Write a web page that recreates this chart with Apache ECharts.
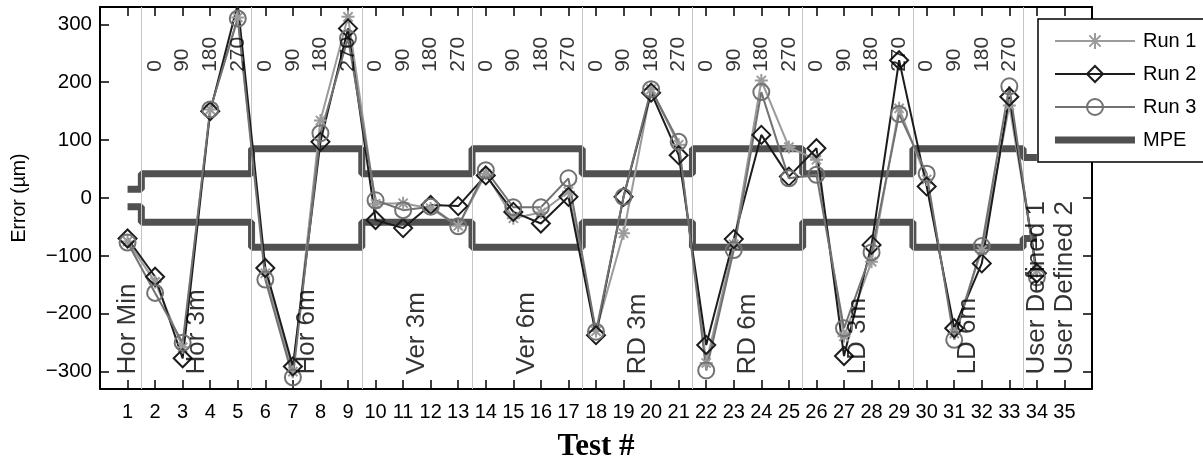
<!DOCTYPE html>
<html><head><meta charset="utf-8">
<script src="https://cdn.jsdelivr.net/npm/echarts@6/dist/echarts.min.js"></script>
<style>html,body{margin:0;padding:0;background:#fff}#c{width:1203px;height:461px}</style>
</head><body><div id="c"></div>
<script>
// ---- data ----
const tests = [1,2,3,4,5,6,7,8,9,10,11,12,13,14,15,16,17,18,19,20,21,22,23,24,25,26,27,28,29,30,31,32,33,34,35];
const run1 = [-75,-145,-258,153,312,-130,-300,134,313,-10,-9,-18,-48,42,-35,-25,11,-230,-61,188,92,-285,-80,203,88,66,-239,-110,155,32,-234,-90,160,-125];
const run2 = [-70,-136,-277,150,335,-121,-291,97,293,-38,-52,-12,-14,39,-24,-44,2,-237,2,182,74,-254,-71,109,37,86,-273,-81,238,20,-225,-113,175,-130];
const run3 = [-77,-164,-250,153,310,-141,-310,112,276,-4,-21,-15,-49,48,-16,-16,34,-231,2,188,97,-298,-90,183,34,40,-225,-94,145,42,-245,-83,193,-137];
const mpeEdges = [1,1.5,5.5,9.5,13.5,17.5,21.5,25.5,29.5,33.5,34];
const mpeLevels = [15,42,85,42,85,42,85,42,85,70];
const separators = [1.5,5.5,9.5,13.5,17.5,21.5,25.5,29.5,33.5];
const groupNames = ['Hor Min','Hor 3m','Hor 6m','Ver 3m','Ver 6m','RD 3m','RD 6m','LD 3m','LD 6m','User Defined 1','User Defined 2'];
const groupCenters = [1,3.5,7.5,11.5,15.5,19.5,23.5,27.5,31.5,34,35];
const angleLabels = ['0','90','180','270'];
const angleGroupStarts = [2,6,10,14,18,22,26,30];
const yTicks = [-300,-200,-100,0,100,200,300];
const seriesNames = ['Run 1','Run 2','Run 3','MPE'];

// ---- build ----
const FONT = 'Liberation Sans, Arial, sans-serif';
const pair = arr => arr.map((v,i)=>[tests[i], v]);
function stairs(sign){
  const pts=[];
  for(let i=0;i<mpeLevels.length;i++){
    pts.push([mpeEdges[i], sign*mpeLevels[i]]);
    pts.push([mpeEdges[i+1], sign*mpeLevels[i]]);
  }
  return pts;
}
const angleData = [];
angleGroupStarts.forEach(s=>angleLabels.forEach((t,i)=>angleData.push([s+i, 218, t])));
const groupData = groupNames.map((n,i)=>[groupCenters[i], -305, n]);

const c1='#9b9b9b', c2='#1c1c1c', c3='#727272', cm='#505050';
const asterisk='path://M0,-10L0,10M-10,0L10,0M-7.07,-7.07L7.07,7.07M-7.07,7.07L7.07,-7.07';

function runSeries(name, data, color, symbol, size){
  return {name, type:'line', data:pair(data), xAxisIndex:0, yAxisIndex:0,
    symbol, symbolSize:size, showAllSymbol:true, z:5,
    lineStyle:{color, width:2},
    itemStyle:{color:'rgba(255,255,255,0)', borderColor:color, borderWidth:2},
    emphasis:{disabled:true}, animation:false};
}
function mpeSeries(sign){
  return {name:'MPE', type:'line', data:stairs(sign), symbol:'none', z:3,
    lineStyle:{color:cm, width:7}, itemStyle:{color:cm},
    emphasis:{disabled:true}, animation:false};
}
const labelSeries = (data, size) => ({type:'scatter', data, symbolSize:0, z:6, silent:true, animation:false,
  label:{show:true, position:[0,0], rotate:90, align:'left', verticalAlign:'middle',
    formatter:p=>p.value[2], color:'#000', fontSize:size, fontFamily:FONT}});

const chart = echarts.init(document.getElementById('c'), null, {renderer:'canvas'});
const axisLine = {show:true, onZero:false, lineStyle:{color:'#000', width:2}};
const axisTick = (vals)=>({show:true, inside:true, length:9, lineStyle:{color:'#000', width:1.5}, customValues:vals});
chart.setOption({
  animation:false,
  backgroundColor:'#fff',
  grid:{left:100, top:7, right:111, bottom:72, containLabel:false, outerBoundsMode:'none'},
  legend:{
    data:[
      {name:'Run 1'},{name:'Run 2'},{name:'Run 3'},
      {name:'MPE', icon:'path://M0,0L80,0L80,7L0,7Z', itemStyle:{color:cm, borderWidth:0}}
    ],
    orient:'vertical', left:1038, top:19,
    padding:[12,40,12,16], itemWidth:80, itemHeight:20, itemGap:13,
    backgroundColor:'#fff', borderColor:'#000', borderWidth:1.5, borderRadius:0,
    textStyle:{color:'#000', fontSize:20, fontFamily:FONT, lineHeight:20, padding:[0,0,0,3]},
    selectedMode:false
  },
  xAxis:[
    {type:'value', min:0, max:36, interval:1, position:'bottom',
     axisLine, axisTick:axisTick(tests), splitLine:{show:false},
     axisLabel:{customValues:tests, color:'#000', fontSize:20, fontFamily:FONT, margin:13},
     name:'Test #', nameLocation:'middle', nameGap:42,
     nameTextStyle:{fontFamily:'Liberation Serif, Times New Roman, serif', fontWeight:'bold', fontSize:31, color:'#000'}},
    {type:'value', min:0, max:36, interval:1, position:'top',
     axisLine, axisTick:axisTick(tests), splitLine:{show:false}, axisLabel:{show:false}}
  ],
  yAxis:[
    {type:'value', min:-330, max:330, position:'left',
     axisLine, axisTick:axisTick(yTicks), splitLine:{show:false},
     axisLabel:{customValues:yTicks, color:'#000', fontSize:20.5, fontFamily:FONT, margin:8,
       formatter:v=>String(v).replace('-','\u2212')},
     name:'Error (\u00b5m)', nameLocation:'middle', nameGap:70,
     nameTextStyle:{fontFamily:FONT, fontSize:19.5, color:'#000'}},
    {type:'value', min:-330, max:330, position:'right',
     axisLine, axisTick:axisTick(yTicks), splitLine:{show:false}, axisLabel:{show:false}}
  ],
  series:[
    {type:'line', data:[], silent:true, z:1,
     markLine:{silent:true, symbol:'none', animation:false, label:{show:false},
       lineStyle:{color:'#c4c4c4', width:1, type:'solid'},
       data:separators.map(x=>({xAxis:x}))}},
    mpeSeries(1),
    mpeSeries(-1),
    runSeries('Run 1', run1, c1, asterisk, 13),
    runSeries('Run 2', run2, c2, 'diamond', 18),
    runSeries('Run 3', run3, c3, 'circle', 16),
    labelSeries(angleData, 21),
    labelSeries(groupData, 26)
  ]
});
</script></body></html>
